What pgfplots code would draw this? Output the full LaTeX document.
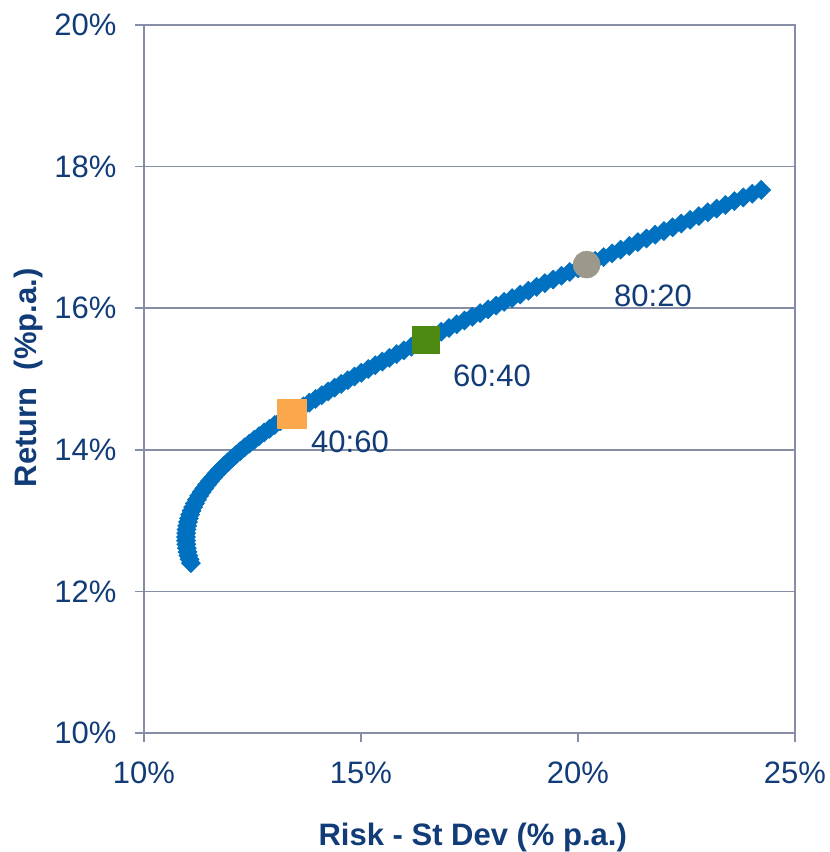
\documentclass[border=0pt]{standalone}
\usepackage{fontspec}
\setmainfont{Liberation Sans}
\usepackage{pgfplots}
\pgfplotsset{compat=1.18}

\definecolor{frontier}{HTML}{0070C0}
\definecolor{navytext}{HTML}{113C78}
\definecolor{axisgray}{HTML}{868EA6}
\definecolor{mixA}{HTML}{FBA84C}
\definecolor{mixB}{HTML}{4E8A12}
\definecolor{mixC}{HTML}{9C998C}

\newcommand{\chartfont}{\fontsize{31}{37}\selectfont}

\begin{document}
\begin{tikzpicture}
\useasboundingbox (-144pt,-119pt) rectangle (686pt,733pt);
\begin{axis}[
  at={(0,0)}, anchor=south west,
  scale only axis, width=651pt, height=708pt,
  xmin=10, xmax=25, ymin=10, ymax=20,
  xtick={10,15,20,25}, xticklabels={10\%,15\%,20\%,25\%},
  ytick={10,12,14,16,18,20}, yticklabels={10\%,12\%,14\%,16\%,18\%,20\%},
  tick pos=left, tick align=outside, major tick length=9pt,
  ymajorgrids,
  grid style={line width=1.6pt, color=axisgray},
  axis line style={line width=1.6pt, color=axisgray},
  every tick/.style={line width=1.6pt, color=axisgray},
  ticklabel style={font=\chartfont, text=navytext},
  xticklabel style={yshift=-16pt},
  yticklabel style={xshift=-15pt},
  label style={font=\bfseries\chartfont, text=navytext},
  xlabel={Risk - St Dev (\% p.a.)},
  ylabel={Return\ \ (\%p.a.)},
  xlabel style={at={(axis description cs:0.505,-0.1582)}, anchor=base},
  ylabel style={at={(axis description cs:-0.1644,0.5014)}, anchor=base},
  clip=false,
]
% portfolio frontier, equity weight 0% to 100% in 1% steps
\addplot[only marks, mark=square*, mark size=6.8pt, color=frontier,
         mark options={rotate=45}] coordinates {
(11.080,12.400) (11.050,12.453) (11.024,12.505) (11.003,12.558) (10.987,12.611)
(10.976,12.664) (10.970,12.716) (10.969,12.769) (10.972,12.822) (10.981,12.874)
(10.994,12.927) (11.012,12.980) (11.035,13.032) (11.063,13.085) (11.095,13.138)
(11.133,13.191) (11.175,13.243) (11.221,13.296) (11.272,13.349) (11.328,13.401)
(11.388,13.454) (11.453,13.507) (11.521,13.559) (11.594,13.612) (11.671,13.665)
(11.753,13.718) (11.838,13.770) (11.927,13.823) (12.020,13.876) (12.116,13.928)
(12.217,13.981) (12.320,14.034) (12.428,14.086) (12.538,14.139) (12.652,14.192)
(12.769,14.245) (12.889,14.297) (13.012,14.350) (13.138,14.403) (13.267,14.455)
(13.399,14.508) (13.533,14.561) (13.670,14.613) (13.810,14.666) (13.952,14.719)
(14.096,14.772) (14.243,14.824) (14.392,14.877) (14.543,14.930) (14.696,14.982)
(14.851,15.035) (15.008,15.088) (15.167,15.140) (15.328,15.193) (15.491,15.246)
(15.655,15.299) (15.821,15.351) (15.989,15.404) (16.158,15.457) (16.329,15.509)
(16.502,15.562) (16.675,15.615) (16.850,15.667) (17.027,15.720) (17.205,15.773)
(17.384,15.826) (17.564,15.878) (17.746,15.931) (17.928,15.984) (18.112,16.036)
(18.297,16.089) (18.483,16.142) (18.670,16.194) (18.858,16.247) (19.047,16.300)
(19.237,16.353) (19.427,16.405) (19.619,16.458) (19.811,16.511) (20.005,16.563)
(20.199,16.616) (20.394,16.669) (20.589,16.721) (20.786,16.774) (20.983,16.827)
(21.181,16.880) (21.379,16.932) (21.578,16.985) (21.778,17.038) (21.979,17.090)
(22.180,17.143) (22.381,17.196) (22.583,17.248) (22.786,17.301) (22.990,17.354)
(23.193,17.407) (23.398,17.459) (23.603,17.512) (23.808,17.565) (24.014,17.617)
(24.220,17.670)
};
% highlighted mixes
\addplot[only marks, mark=square*, mark size=14.5pt, color=mixA]
  coordinates {(13.399,14.508)};
\addplot[only marks, mark=square*, mark size=13.5pt, color=mixB]
  coordinates {(16.502,15.562)};
\addplot[only marks, mark=*, mark size=13.5pt, color=mixC]
  coordinates {(20.199,16.616)};
\node[anchor=base west, inner sep=0pt, font=\chartfont, text=navytext]
  at (axis cs:13.848,13.955) {40:60};
\node[anchor=base west, inner sep=0pt, font=\chartfont, text=navytext]
  at (axis cs:17.120,14.901) {60:40};
\node[anchor=base west, inner sep=0pt, font=\chartfont, text=navytext]
  at (axis cs:20.829,16.031) {80:20};
\end{axis}
\end{tikzpicture}
\end{document}
